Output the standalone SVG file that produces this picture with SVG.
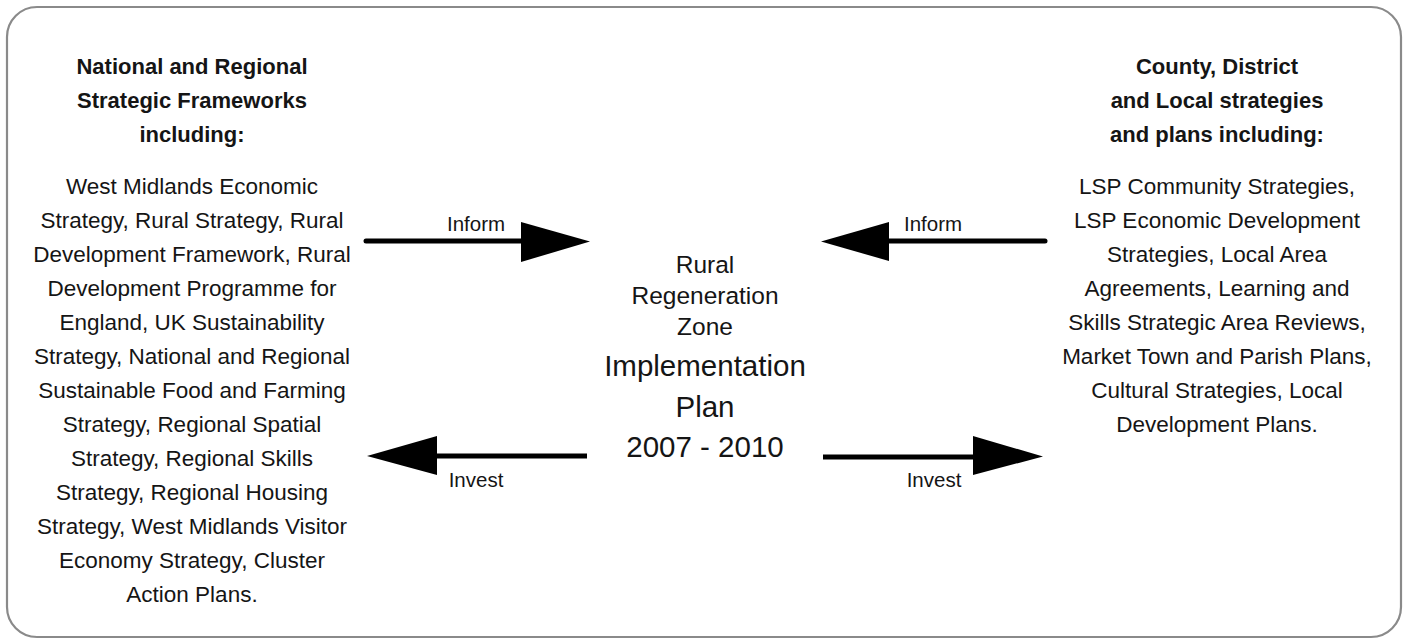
<svg xmlns="http://www.w3.org/2000/svg" width="1408" height="644" viewBox="0 0 1408 644">
<style>
.frame{fill:#fff;stroke:#8a8a8a;stroke-width:2.2}
text{font-family:"Liberation Sans",Arial,sans-serif;fill:#151515;text-anchor:middle}
.head{font-size:22px;font-weight:bold}
.body{font-size:22.5px}
.mid1{font-size:24.5px}
.mid2{font-size:29.5px}
.lbl{font-size:20.5px}
.shaft{stroke:#000;stroke-width:5;fill:none}
.tip{fill:#000}
</style>
<rect class="frame" x="7" y="7" width="1394" height="630" rx="30" ry="30"/>
<g id="left-frameworks">
<text class="head" x="192" y="74">National and Regional</text>
<text class="head" x="192" y="108">Strategic Frameworks</text>
<text class="head" x="192" y="142">including:</text>
<text class="body" x="192" y="194">West Midlands Economic</text>
<text class="body" x="192" y="228">Strategy, Rural Strategy, Rural</text>
<text class="body" x="192" y="262">Development Framework, Rural</text>
<text class="body" x="192" y="296">Development Programme for</text>
<text class="body" x="192" y="330">England, UK Sustainability</text>
<text class="body" x="192" y="364">Strategy, National and Regional</text>
<text class="body" x="192" y="398">Sustainable Food and Farming</text>
<text class="body" x="192" y="432">Strategy, Regional Spatial</text>
<text class="body" x="192" y="466">Strategy, Regional Skills</text>
<text class="body" x="192" y="500">Strategy, Regional Housing</text>
<text class="body" x="192" y="534">Strategy, West Midlands Visitor</text>
<text class="body" x="192" y="568">Economy Strategy, Cluster</text>
<text class="body" x="192" y="602">Action Plans.</text>
</g>
<g id="centre-plan">
<text class="mid1" x="705" y="273">Rural</text>
<text class="mid1" x="705" y="304">Regeneration</text>
<text class="mid1" x="705" y="335">Zone</text>
<text class="mid2" x="705" y="376">Implementation</text>
<text class="mid2" x="705" y="417">Plan</text>
<text class="mid2" x="705" y="457">2007 - 2010</text>
</g>
<g id="right-strategies">
<text class="head" x="1217" y="74">County, District</text>
<text class="head" x="1217" y="108">and Local strategies</text>
<text class="head" x="1217" y="142">and plans including:</text>
<text class="body" x="1217" y="194">LSP Community Strategies,</text>
<text class="body" x="1217" y="228">LSP Economic Development</text>
<text class="body" x="1217" y="262">Strategies, Local Area</text>
<text class="body" x="1217" y="296">Agreements, Learning and</text>
<text class="body" x="1217" y="330">Skills Strategic Area Reviews,</text>
<text class="body" x="1217" y="364">Market Town and Parish Plans,</text>
<text class="body" x="1217" y="398">Cultural Strategies, Local</text>
<text class="body" x="1217" y="432">Development Plans.</text>
</g>
<g id="connectors">
<g id="inform-left">
<line class="shaft" x1="366" y1="241" x2="524" y2="241" stroke-linecap="round"/>
<polygon class="tip" points="521,222 590,241.5 521,262"/>
<text class="lbl" x="476" y="231">Inform</text>
</g>
<g id="invest-left">
<line class="shaft" x1="587" y1="456" x2="434" y2="456"/>
<polygon class="tip" points="437,436 367,456 437,475"/>
<text class="lbl" x="476" y="487">Invest</text>
</g>
<g id="inform-right">
<line class="shaft" x1="1045" y1="241" x2="886" y2="241" stroke-linecap="round"/>
<polygon class="tip" points="889,222 821,241.5 889,261"/>
<text class="lbl" x="933" y="231">Inform</text>
</g>
<g id="invest-right">
<line class="shaft" x1="823" y1="457" x2="976" y2="457"/>
<polygon class="tip" points="973,436 1043,456.5 973,475"/>
<text class="lbl" x="934" y="487">Invest</text>
</g>
</g>
</svg>
